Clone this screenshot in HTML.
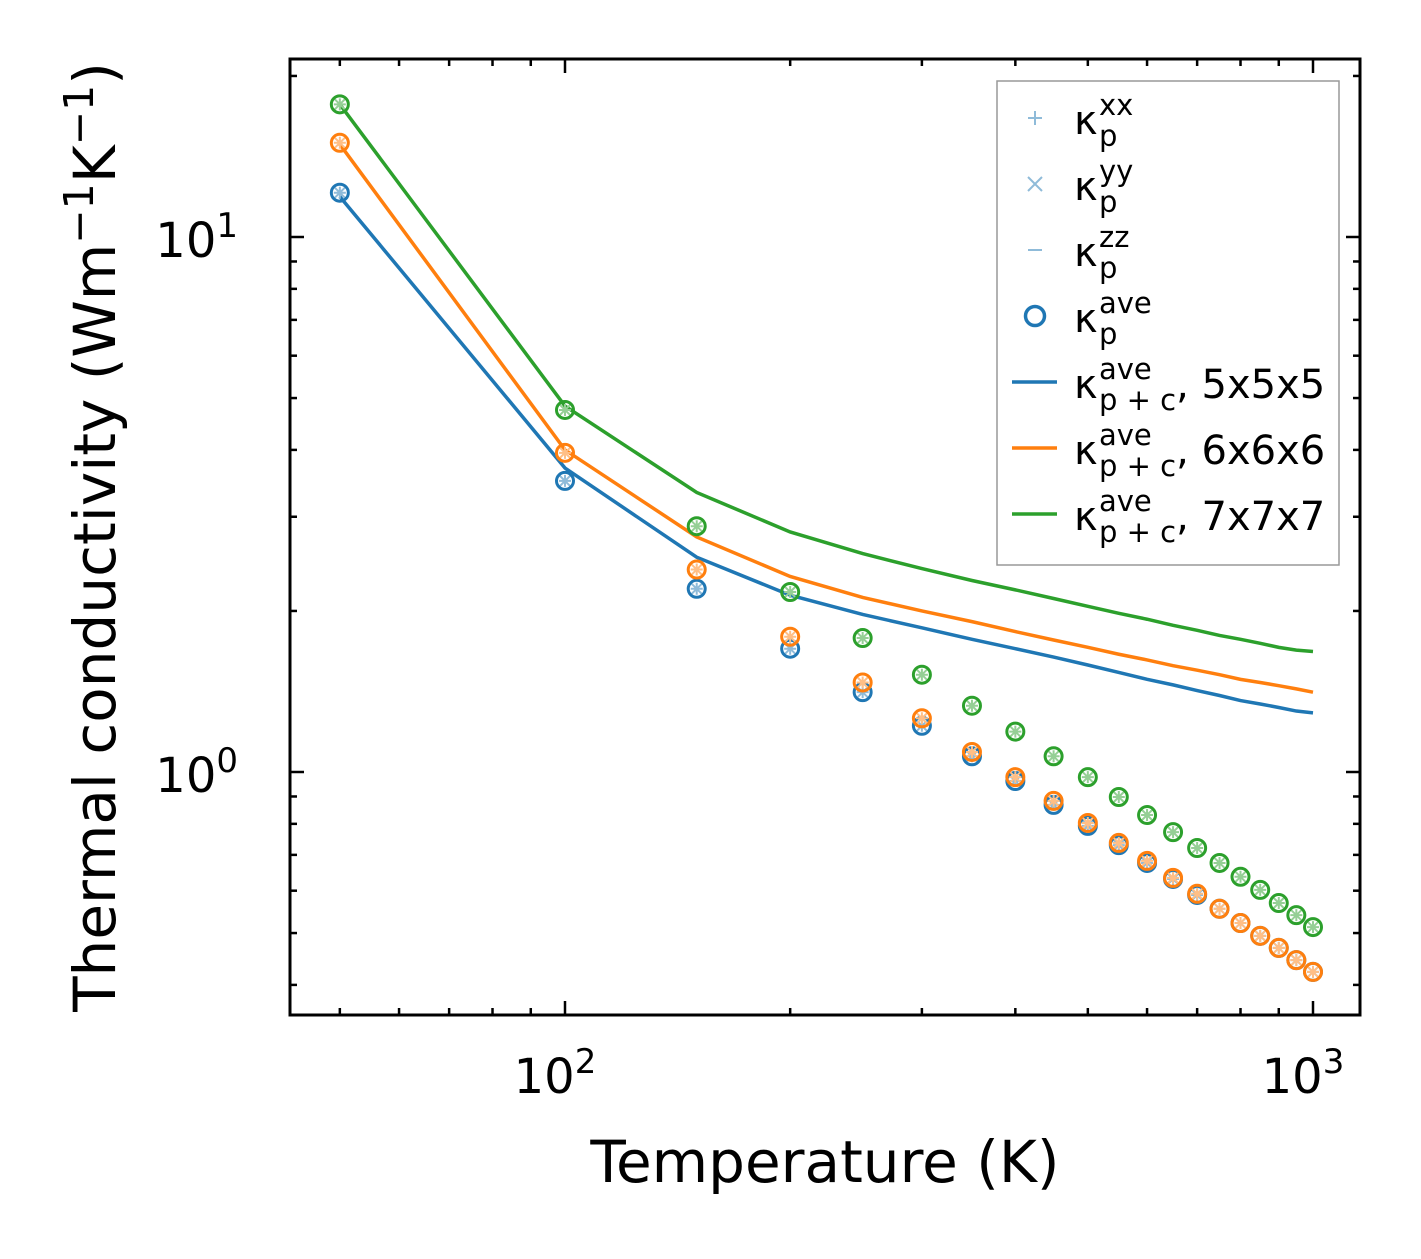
<!DOCTYPE html>
<html><head><meta charset="utf-8"><style>
body{margin:0;background:#fff}
svg text{font-family:"DejaVu Sans","Liberation Sans",sans-serif;fill:#000}
</style></head><body>
<svg id="chart" width="1421" height="1254" viewBox="0 0 1421 1254" xmlns="http://www.w3.org/2000/svg">
<rect width="1421" height="1254" fill="#fff"/>
<g id="plot"></g>
<g id="axes"></g>
<g id="legend"></g>
</svg>
<script>
const temps=[50,100,150,200,250,300,350,400,450,500,550,600,650,700,750,800,850,900,950,1000];
const circ5=[12.1,3.50,2.20,1.70,1.41,1.22,1.07,0.962,0.868,0.793,0.730,0.676,0.631,0.589,0.555,0.522,0.494,0.469,0.445,0.423];
const circ6=[15.0,3.95,2.39,1.79,1.47,1.26,1.09,0.978,0.883,0.803,0.737,0.682,0.634,0.592,0.555,0.522,0.494,0.469,0.445,0.423];
const circ7=[17.7,4.75,2.88,2.17,1.78,1.52,1.33,1.19,1.07,0.978,0.898,0.831,0.772,0.721,0.676,0.637,0.602,0.569,0.540,0.513];
const line5=[11.9,3.70,2.52,2.14,1.97,1.86,1.77,1.70,1.64,1.585,1.535,1.49,1.455,1.42,1.39,1.36,1.34,1.32,1.30,1.29];
const line6=[14.9,4.0,2.75,2.32,2.12,2.0,1.91,1.83,1.765,1.71,1.66,1.62,1.58,1.55,1.52,1.49,1.47,1.45,1.43,1.41];
const line7=[17.7,4.83,3.33,2.81,2.56,2.40,2.28,2.19,2.11,2.04,1.98,1.93,1.88,1.84,1.80,1.77,1.74,1.71,1.69,1.68];
const xTickVals=[100,1000];
const xTickExp=["2","3"];
const yTickVals=[1,10];
const yTickExp=["0","1"];

const NS="http://www.w3.org/2000/svg";
const L=290,R=1360,T=59,B=1015;
const xs=v=>565+748*(Math.log10(v)-2);
const ys=v=>772-535*Math.log10(v);
function mk(tag,attrs,parent){const e=document.createElementNS(NS,tag);for(const k in attrs)e.setAttribute(k,attrs[k]);parent.appendChild(e);return e;}
const plot=document.getElementById('plot'),axes=document.getElementById('axes'),leg=document.getElementById('legend');
const cols={b:'#1f77b4',o:'#ff7f0e',g:'#2ca02c'};
const light={b:'#8fbbd9',o:'#ffbf86',g:'#95cf95'};

[[line5,'b','line-5x5x5'],[line6,'o','line-6x6x6'],[line7,'g','line-7x7x7']].forEach(([d,c,n])=>{
 const p=mk('polyline',{points:temps.map((t,i)=>xs(t)+','+ys(d[i])).join(' '),fill:'none',stroke:cols[c],'stroke-width':3.5},plot);
 
 
});
[[circ5,'b','5x5x5'],[circ6,'o','6x6x6'],[circ7,'g','7x7x7']].forEach(([d,c,n])=>{
 temps.forEach((t,i)=>{
  const x=xs(t),y=ys(d[i]);
  const g=mk('g',{},plot);
  
  
  mk('path',{d:`M${x-6} ${y}h12M${x} ${y-6}v12M${x-5} ${y-5}l10 10M${x-5} ${y+5}l10 -10`,stroke:light[c],'stroke-width':2},g);
  mk('circle',{cx:x,cy:y,r:8.5,fill:'none',stroke:cols[c],'stroke-width':3},g);
 });
});

const fr=mk('rect',{x:L,y:T,width:R-L,height:B-T,fill:'none',stroke:'#000','stroke-width':3},axes);


for(let dec=1;dec<=3;dec++)for(let m=1;m<10;m++){const v=m*Math.pow(10,dec);const x=xs(v);if(x<L||x>R)continue;const len=m==1?14:7;
 mk('line',{x1:x,x2:x,y1:B,y2:B-len,stroke:'#000','stroke-width':2.5},axes);
 mk('line',{x1:x,x2:x,y1:T,y2:T+len,stroke:'#000','stroke-width':2.5},axes);}
for(let dec=-1;dec<=1;dec++)for(let m=1;m<10;m++){const v=m*Math.pow(10,dec);const y=ys(v);if(y<T||y>B)continue;const len=m==1?14:7;
 mk('line',{x1:L,x2:L+len,y1:y,y2:y,stroke:'#000','stroke-width':2.5},axes);
 mk('line',{x1:R,x2:R-len,y1:y,y2:y,stroke:'#000','stroke-width':2.5},axes);}
xTickVals.forEach((v,i)=>{const t=mk('text',{x:xs(v)-10,y:1093,'font-size':48,'text-anchor':'middle'},axes);
 
 
 t.innerHTML=`10<tspan dy="-20" font-size="34">${xTickExp[i]}</tspan>`;});
yTickVals.forEach((v,i)=>{const t=mk('text',{x:238,y:ys(v)+20,'font-size':48,'text-anchor':'end'},axes);
 
 
 t.innerHTML=`10<tspan dy="-20" font-size="34">${yTickExp[i]}</tspan>`;});
const xt=mk('text',{x:825,y:1182,'font-size':58,'text-anchor':'middle'},axes);


xt.textContent='Temperature (K)';
const yt=mk('text',{transform:'translate(115,537) rotate(-90)','font-size':58,'text-anchor':'middle'},axes);


yt.innerHTML='Thermal conductivity (Wm<tspan dy="-22" font-size="41">−1</tspan><tspan dy="22">K</tspan><tspan dy="-22" font-size="41">−1</tspan><tspan dy="22">)</tspan>';

mk('rect',{x:997,y:81,width:342,height:484,fill:'#fff',stroke:'#999','stroke-width':1.5},leg);
const rows=[['+','xx','',''],['x','yy','',''],['-','zz','',''],['o','ave','',''],['b','ave','p + c',', 5x5x5'],['o2','ave','p + c',', 6x6x6'],['g','ave','p + c',', 7x7x7']];
rows.forEach((r,i)=>{
 const cy=118+i*66;
 const g=mk('g',{},leg);
 
 
 const mx=1035;
 if(r[0]=='+')mk('path',{d:`M${mx-7} ${cy}h14M${mx} ${cy-7}v14`,stroke:'#8fbbd9','stroke-width':2},g);
 else if(r[0]=='x')mk('path',{d:`M${mx-7} ${cy-7}l14 14M${mx-7} ${cy+7}l14 -14`,stroke:'#8fbbd9','stroke-width':2},g);
 else if(r[0]=='-')mk('path',{d:`M${mx-7} ${cy}h14`,stroke:'#8fbbd9','stroke-width':2},g);
 else if(r[0]=='o')mk('circle',{cx:mx,cy:cy,r:9.5,fill:'none',stroke:cols.b,'stroke-width':3.5},g);
 else{const c=r[0]=='b'?cols.b:r[0]=='o2'?cols.o:cols.g;mk('line',{x1:1012,x2:1057,y1:cy,y2:cy,stroke:c,'stroke-width':3.5},g);}
 const t=mk('text',{x:1074,y:cy+16,'font-size':40},g);
 const sub=r[2]||'p';
 t.innerHTML=`κ<tspan x="1099" dy="-19" font-size="29">${r[1]}</tspan><tspan x="1099" dy="31" font-size="29">${sub}</tspan><tspan dy="-12">${r[3]}</tspan>`;
});
</script>
</body></html>
